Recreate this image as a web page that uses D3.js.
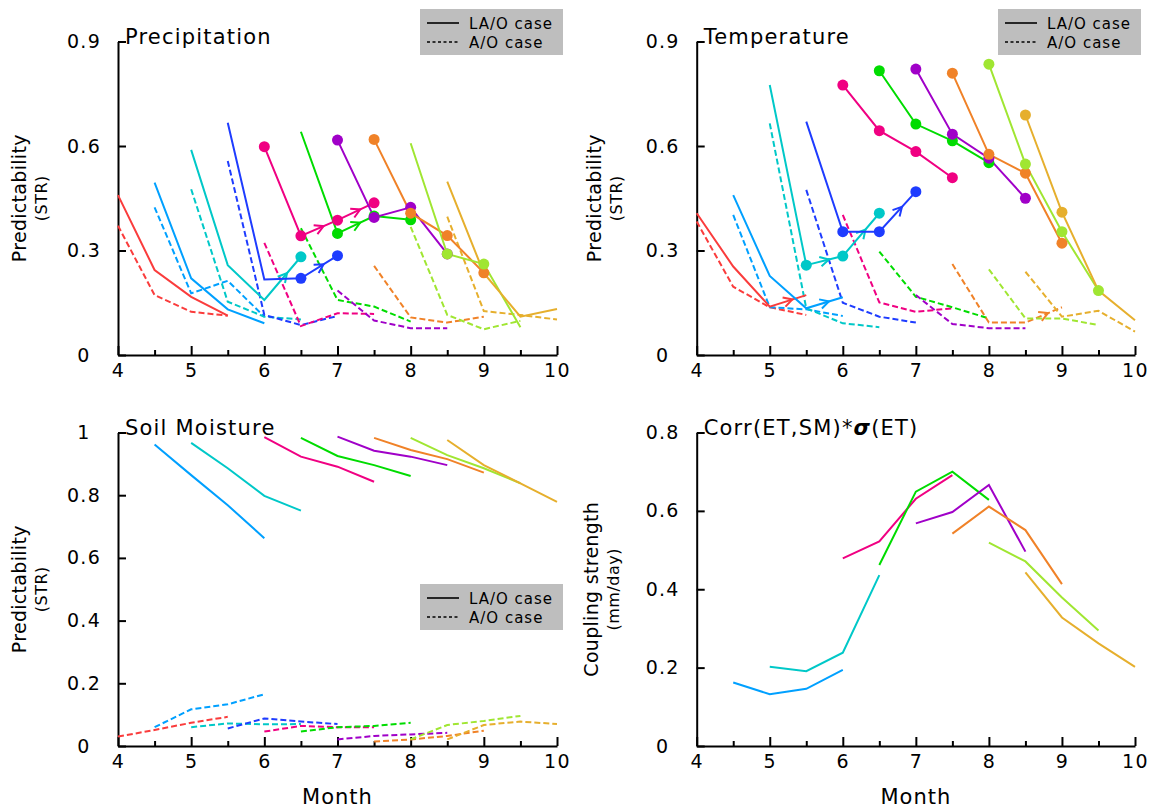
<!DOCTYPE html>
<html>
<head>
<meta charset="utf-8">
<script src="https://cdn.jsdelivr.net/npm/d3@7"></script>
<style>
  body { margin: 0; background: #fff; }
  text { font-family: "DejaVu Sans", sans-serif; fill: #000; }
</style>
</head>
<body>
<script>
// forecast start months (each series runs 4 half-month steps from its start)
const starts = [4, 4.5, 5, 5.5, 6, 6.5, 7, 7.5, 8, 8.5];
const seriesColors = ["rgb(250,60,60)", "rgb(0,160,255)", "rgb(0,200,200)", "rgb(30,60,255)", "rgb(240,0,130)",
                      "rgb(0,220,0)", "rgb(160,0,200)", "rgb(240,130,40)", "rgb(160,230,50)", "rgb(230,175,45)"];
const monthTicks = [4, 5, 6, 7, 8, 9, 10];
const halfTicks = [4.5, 5.5, 6.5, 7.5, 8.5, 9.5];

// Precipitation
const precipLAO = [
  [0.459, 0.244, 0.167, 0.113],
  [0.495, 0.220, 0.131, 0.091],
  [0.589, 0.258, 0.158, 0.282],
  [0.667, 0.217, 0.220, 0.285],
  [0.598, 0.342, 0.387, 0.437],
  [0.641, 0.349, 0.399, 0.388],
  [0.617, 0.395, 0.424, 0.290],
  [0.619, 0.407, 0.343, 0.236],
  [0.608, 0.290, 0.261, 0.080],
  [0.498, 0.235, 0.110, 0.132]
];
const precipAO = [
  [0.371, 0.172, 0.124, 0.113],
  [0.424, 0.177, 0.213, 0.110],
  [0.476, 0.153, 0.110, 0.102],
  [0.557, 0.115, 0.086, 0.112],
  [0.322, 0.083, 0.120, 0.118],
  [0.364, 0.158, 0.139, 0.096],
  [0.185, 0.099, 0.077, 0.077],
  [0.256, 0.108, 0.093, 0.110],
  [0.368, 0.115, 0.074, 0.098],
  [0.397, 0.126, 0.115, 0.102]
];
const precipDots = [
  [0,0,0,0],[0,0,0,0],[0,0,0,1],[0,0,1,1],[1,1,1,1],
  [0,1,1,1],[1,1,1,1],[1,1,1,1],[0,1,1,0],[0,0,0,0]
];
const precipArrowsLAO = [[], [], [2], [2], [1, 2], [1], [], [], [], []];
const precipArrowsAO = [[], [], [], [], [], [], [], [], [], []];

// Temperature
const tempLAO = [
  [0.407, 0.254, 0.139, 0.172],
  [0.459, 0.227, 0.134, 0.166],
  [0.775, 0.258, 0.284, 0.407],
  [0.670, 0.354, 0.354, 0.469],
  [0.775, 0.644, 0.584, 0.509],
  [0.816, 0.663, 0.615, 0.552],
  [0.821, 0.634, 0.565, 0.450],
  [0.809, 0.576, 0.522, 0.321],
  [0.835, 0.548, 0.354, 0.185],
  [0.689, 0.410, 0.185, 0.100]
];
const tempAO = [
  [0.383, 0.196, 0.137, 0.115],
  [0.402, 0.137, 0.131, 0.112],
  [0.665, 0.134, 0.091, 0.080],
  [0.474, 0.150, 0.110, 0.093],
  [0.402, 0.151, 0.124, 0.134],
  [0.297, 0.167, 0.137, 0.105],
  [0.172, 0.089, 0.077, 0.077],
  [0.261, 0.093, 0.093, 0.137],
  [0.246, 0.105, 0.105, 0.086],
  [0.239, 0.110, 0.127, 0.067]
];
const tempDots = [
  [0,0,0,0],[0,0,0,0],[0,1,1,1],[0,1,1,1],[1,1,1,1],
  [1,1,1,1],[1,1,1,1],[1,1,1,1],[1,1,1,1],[1,1,0,0]
];
const tempArrowsLAO = [[2], [2], [1, 2], [2], [], [], [], [], [], []];
const tempArrowsAO = [[], [], [], [], [], [], [], [2], [], []];

// Soil moisture
const smLAO = [
  null,
  [0.962, 0.864, 0.768, 0.663],
  [0.967, 0.886, 0.798, 0.751],
  null,
  [0.985, 0.923, 0.891, 0.843],
  [0.983, 0.925, 0.896, 0.861],
  [0.987, 0.942, 0.923, 0.896],
  [0.983, 0.944, 0.915, 0.872],
  [0.983, 0.928, 0.886, 0.838],
  [0.976, 0.896, 0.838, 0.779]
];
const smAO = [
  [0.030, 0.051, 0.074, 0.093],
  [0.060, 0.117, 0.133, 0.165],
  [0.060, 0.072, 0.069, 0.070],
  [0.056, 0.088, 0.078, 0.070],
  [0.046, 0.064, 0.060, 0.060],
  [0.046, 0.060, 0.064, 0.074],
  [0.021, 0.032, 0.037, 0.042],
  [0.014, 0.021, 0.032, 0.049],
  [0.021, 0.067, 0.080, 0.096],
  [0.021, 0.067, 0.078, 0.070]
];

// Coupling strength Corr(ET,SM)*sigma(ET), mm/day
const coupling = [
  null,
  [0.162, 0.132, 0.146, 0.194],
  [0.202, 0.191, 0.238, 0.436],
  null,
  [0.479, 0.522, 0.631, 0.691],
  [0.462, 0.649, 0.700, 0.628],
  [0.568, 0.597, 0.666, 0.496],
  [0.542, 0.611, 0.551, 0.413],
  [0.519, 0.471, 0.379, 0.295],
  [0.443, 0.328, 0.262, 0.202]
];

const svg = d3.select("body").append("svg")
    .attr("width", 1153)
    .attr("height", 810);

function drawLegend(lx, ly) {
  const lg = svg.append("g").attr("transform", `translate(${lx},${ly})`);
  lg.append("rect").attr("width", 143).attr("height", 46).attr("fill", "#bebebe");
  lg.append("line").attr("x1", 7).attr("x2", 39).attr("y1", 14).attr("y2", 14)
    .attr("stroke", "#000").attr("stroke-width", 1.6);
  lg.append("line").attr("x1", 7).attr("x2", 39).attr("y1", 33).attr("y2", 33)
    .attr("stroke", "#000").attr("stroke-width", 1.4).attr("stroke-dasharray", "3,2.5");
  lg.append("text").attr("x", 49).attr("y", 19.5).attr("font-size", 15).attr("letter-spacing", 1).text("LA/O  case");
  lg.append("text").attr("x", 49).attr("y", 38.5).attr("font-size", 15).attr("letter-spacing", 1).text("A/O  case");
}

function drawPanel(p) {
  const x = d3.scaleLinear().domain([4, 10]).range([p.left, p.right]);
  const y = d3.scaleLinear().domain([0, p.ymax]).range([p.bottom, p.top]);
  const g = svg.append("g");

  // minor ticks at half months
  g.append("g")
      .attr("transform", `translate(0,${p.bottom})`)
      .call(d3.axisBottom(x).tickValues(halfTicks).tickSize(-5).tickSizeOuter(0).tickFormat(""))
      .call(a => a.select(".domain").remove());
  g.append("g")
      .attr("transform", `translate(0,${p.bottom})`)
      .call(d3.axisBottom(x).tickValues(monthTicks).tickSize(-9).tickSizeOuter(0).tickPadding(9).tickFormat(d3.format("d")));
  const ya = g.append("g")
      .attr("transform", `translate(${p.left},0)`)
      .call(d3.axisLeft(y).tickValues(p.yticks).tickSize(-8).tickSizeOuter(0).tickFormat(d => String(d)));
  ya.selectAll(".tick text").attr("x", -34).attr("text-anchor", "middle");
  g.selectAll(".domain, .tick line").attr("stroke", "#000").attr("stroke-width", 2);
  g.selectAll(".tick text").attr("font-family", "DejaVu Sans").attr("font-size", 19).attr("letter-spacing", 1.3);

  // title sits at the top of the y axis
  const title = g.append("text")
      .attr("x", p.left + 7)
      .attr("y", p.top + 2)
      .attr("font-size", 21)
      .attr("letter-spacing", 1.2);
  if (p.titleParts) {
    p.titleParts.forEach(t => {
      const ts = title.append("tspan").text(t.text);
      if (t.bold) ts.attr("font-weight", "bold").attr("font-style", "italic");
    });
  } else {
    title.text(p.title);
  }

  // y label
  const cy = (p.top + p.bottom) / 2;
  g.append("text")
      .attr("transform", `translate(${p.left - p.ylabOffset},${cy}) rotate(-90)`)
      .attr("text-anchor", "middle")
      .attr("font-size", 19)
      .attr("letter-spacing", 0.3)
      .text(p.ylabel);
  g.append("text")
      .attr("transform", `translate(${p.left - p.ylabOffset + 21},${cy}) rotate(-90)`)
      .attr("text-anchor", "middle")
      .attr("font-size", 16)
      .attr("letter-spacing", 0.5)
      .text(p.ysub);

  if (p.xlabel) {
    g.append("text")
        .attr("x", (p.left + p.right) / 2)
        .attr("y", p.bottom + 58)
        .attr("text-anchor", "middle")
        .attr("font-size", 21)
        .attr("letter-spacing", 1)
        .text(p.xlabel);
  }

  const lineFor = i => d3.line()
      .x((d, j) => x(starts[i] + 0.5 * j))
      .y(d => y(d));

  function arrow(i, vals, seg, color) {
    const x0 = x(starts[i] + 0.5 * seg), y0 = y(vals[seg]);
    const x1 = x(starts[i] + 0.5 * (seg + 1)), y1 = y(vals[seg + 1]);
    const tx = x0 + 0.62 * (x1 - x0), ty = y0 + 0.62 * (y1 - y0);
    const a = Math.atan2(y1 - y0, x1 - x0);
    const L = 10, w = 0.5;
    const pa = [tx - L * Math.cos(a - w), ty - L * Math.sin(a - w)];
    const pb = [tx - L * Math.cos(a + w), ty - L * Math.sin(a + w)];
    g.append("path")
        .attr("d", `M${pa[0]},${pa[1]}L${tx},${ty}L${pb[0]},${pb[1]}`)
        .attr("fill", "none")
        .attr("stroke", color)
        .attr("stroke-width", 2)
        .attr("stroke-linejoin", "miter");
  }

  starts.forEach((s, i) => {
    const c = seriesColors[i];
    if (p.ao && p.ao[i]) {
      g.append("path")
          .attr("d", lineFor(i)(p.ao[i]))
          .attr("fill", "none")
          .attr("stroke", c)
          .attr("stroke-width", 2)
          .attr("stroke-dasharray", "6,3");
      if (p.arrowsAO) p.arrowsAO[i].forEach(k => arrow(i, p.ao[i], k, c));
    }
  });
  starts.forEach((s, i) => {
    const c = seriesColors[i];
    if (p.lao && p.lao[i]) {
      g.append("path")
          .attr("d", lineFor(i)(p.lao[i]))
          .attr("fill", "none")
          .attr("stroke", c)
          .attr("stroke-width", 2);
      if (p.arrowsLAO) p.arrowsLAO[i].forEach(k => arrow(i, p.lao[i], k, c));
    }
  });
  if (p.dots) {
    starts.forEach((s, i) => {
      g.selectAll(null)
          .data(p.lao[i].map((v, j) => ({v, j})).filter(d => p.dots[i][d.j]))
        .join("circle")
          .attr("cx", d => x(s + 0.5 * d.j))
          .attr("cy", d => y(d.v))
          .attr("r", 5.5)
          .attr("fill", seriesColors[i]);
    });
  }
  if (p.legend) drawLegend(p.legend[0], p.legend[1]);
}

drawPanel({
  left: 118, right: 557, top: 41.5, bottom: 355, ymax: 0.9, yticks: [0, 0.3, 0.6, 0.9],
  title: "Precipitation", ylabel: "Predictability", ysub: "(STR)", ylabOffset: 92,
  lao: precipLAO, ao: precipAO, dots: precipDots,
  arrowsLAO: precipArrowsLAO, arrowsAO: precipArrowsAO, legend: [420, 9]
});
drawPanel({
  left: 696.7, right: 1135, top: 41.5, bottom: 355, ymax: 0.9, yticks: [0, 0.3, 0.6, 0.9],
  title: "Temperature", ylabel: "Predictability", ysub: "(STR)", ylabOffset: 96,
  lao: tempLAO, ao: tempAO, dots: tempDots,
  arrowsLAO: tempArrowsLAO, arrowsAO: tempArrowsAO, legend: [998, 9]
});
drawPanel({
  left: 118, right: 557, top: 432.5, bottom: 746, ymax: 1, yticks: [0, 0.2, 0.4, 0.6, 0.8, 1],
  title: "Soil  Moisture", ylabel: "Predictability", ysub: "(STR)", ylabOffset: 92, xlabel: "Month",
  lao: smLAO, ao: smAO, legend: [420, 584]
});
drawPanel({
  left: 696.7, right: 1135, top: 432.5, bottom: 746, ymax: 0.8, yticks: [0, 0.2, 0.4, 0.6, 0.8],
  titleParts: [{text: "Corr(ET,SM)*"}, {text: "σ", bold: true}, {text: "(ET)"}],
  ylabel: "Coupling  strength", ysub: "(mm/day)", ylabOffset: 99, xlabel: "Month",
  lao: coupling
});
</script>
</body>
</html>
